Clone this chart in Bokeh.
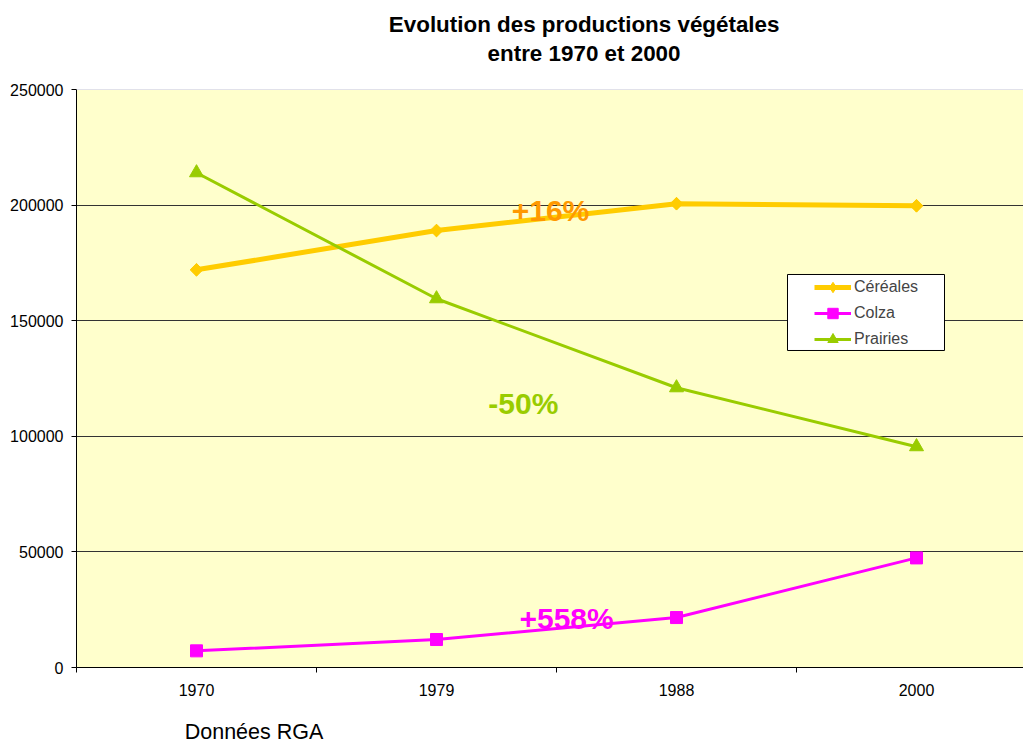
import math
from bokeh.plotting import figure
from bokeh.models import (Range1d, FixedTicker, BasicTickFormatter, Legend, LegendItem,
                          Label, Title, Span, BoxAnnotation, LinearAxis)
from bokeh.embed import file_html
from bokeh.resources import INLINE

# ---- data ----
years = ["1970", "1979", "1988", "2000"]
cereales = [172000, 189000, 200600, 199700]
colza = [7200, 12100, 21600, 47400]
prairies = [214000, 159500, 121000, 95500]
y_ticks = [0, 50000, 100000, 150000, 200000, 250000]
grid_ticks = [50000, 100000, 150000, 200000]
series_names = ["Céréales", "Colza", "Prairies"]
changes = ["+16%", "+558%", "-50%"]
title_lines = ["Evolution des productions végétales", "entre 1970 et 2000"]
source_note = "Données RGA"

# ---- text placement ----
change_x = [1.475, 1.542, 1.362]
change_y = [197700, 21200, 114200]
note_x = 0.2396

FONT = "Liberation Sans"
colors = ["#FFCC00", "#FF00FF", "#99CC00"]
text_colors = ["#FF9900", "#FF00FF", "#99CC00"]

xs = list(range(len(years)))

p = figure(width=1023, height=746, output_backend="svg", toolbar_location=None,
           x_range=Range1d(-0.5, 3.4458), y_range=Range1d(0, 250000),
           min_border_left=76, min_border_right=0, min_border_top=89, min_border_bottom=79,
           background_fill_color="#FFFFCC", border_fill_color="white",
           outline_line_color=None)

# titles (outer: p.title, inner: added title)
p.title.text = title_lines[0]
p.title.align = "right"
p.title.offset = 244
p.title.standoff = -43
p.title.text_font = FONT
p.title.text_font_size = "22.4px"
p.title.text_font_style = "bold"
p.title.text_color = "black"
p.add_layout(Title(text=title_lines[1], align="right", offset=343, standoff=47,
                   text_font=FONT, text_font_size="22.4px", text_font_style="bold",
                   text_color="black"), "above")

# axes
p.xaxis.ticker = FixedTicker(ticks=xs, minor_ticks=[-0.5, 0.5, 1.5, 2.5, 3.5])
p.xaxis.major_label_overrides = {i: y for i, y in enumerate(years)}
p.xaxis.major_tick_out = 0
p.xaxis.major_tick_in = 0
p.xaxis.minor_tick_out = 5
p.xaxis.minor_tick_in = 0
p.xaxis.major_label_standoff = 11
p.xaxis.axis_line_color = "black"
p.xaxis.minor_tick_line_color = "black"

p.yaxis.ticker = FixedTicker(ticks=y_ticks)
p.yaxis.formatter = BasicTickFormatter(use_scientific=False)
p.yaxis.major_tick_out = 5
p.yaxis.major_tick_in = 0
p.yaxis.minor_tick_line_color = None
p.yaxis.major_label_standoff = 8
p.yaxis.axis_line_color = "black"
p.yaxis.major_tick_line_color = "black"

for ax in (p.xaxis, p.yaxis):
    ax.major_label_text_font = FONT
    ax.major_label_text_font_size = "16px"
    ax.major_label_text_color = "black"

# source note as an unlined axis row below the category labels
note_axis = LinearAxis(ticker=FixedTicker(ticks=[note_x]),
                       major_label_overrides={note_x: source_note},
                       axis_line_color=None, major_tick_line_color=None,
                       minor_tick_line_color=None, major_tick_out=0, major_tick_in=0,
                       minor_tick_out=0, minor_tick_in=0, major_label_standoff=21,
                       major_label_text_font=FONT, major_label_text_font_size="21.5px",
                       major_label_text_color="black")
p.add_layout(note_axis, "below")

p.xgrid.visible = False
p.ygrid.ticker = FixedTicker(ticks=grid_ticks)
p.ygrid.grid_line_color = "#333333"
p.ygrid.grid_line_width = 1

p.add_layout(Span(location=250000, dimension="width", line_color="#C4C4F0", line_width=1))

# series: small legend-size markers underneath, full-size markers on top
r1l = p.line(xs, cereales, line_color=colors[0], line_width=5)
lg1 = p.scatter(xs, cereales, marker="diamond", size=12, color=colors[0])
r1s = p.scatter(xs, cereales, marker="square", angle=math.pi / 4, size=9, color=colors[0])
r2l = p.line(xs, colza, line_color=colors[1], line_width=3)
lg2 = p.scatter(xs, colza, marker="square", size=9, color=colors[1])
r2s = p.scatter(xs, colza, marker="square", size=12, color=colors[1])
r3l = p.line(xs, prairies, line_color=colors[2], line_width=3)
lg3 = p.scatter(xs, prairies, marker="triangle", size=10, color=colors[2])
r3s = p.scatter(xs, prairies, marker="triangle", size=14, color=colors[2])

# change annotations
for t, x, y, c in zip(changes, change_x, change_y, text_colors):
    p.add_layout(Label(x=x, y=y, text=t, text_align="center", text_baseline="middle",
                       text_font=FONT, text_font_size="30px", text_font_style="bold",
                       text_color=c))

# legend box + legend
p.add_layout(BoxAnnotation(left=2.4625, right=3.1167, top=169983, bottom=137111,
                           fill_color="white", fill_alpha=1.0, line_color="black",
                           line_width=1, line_alpha=1.0))
legend = Legend(items=[LegendItem(label=series_names[0], renderers=[r1l, lg1]),
                       LegendItem(label=series_names[1], renderers=[r2l, lg2]),
                       LegendItem(label=series_names[2], renderers=[r3l, lg3])],
                location=(738, 315), padding=0, spacing=0, margin=0,
                glyph_width=37, glyph_height=26, label_height=26, label_standoff=3,
                border_line_color=None, background_fill_alpha=0,
                label_text_font=FONT, label_text_font_size="16px")
p.add_layout(legend)

open("out.html", "w").write(file_html(p, INLINE))
